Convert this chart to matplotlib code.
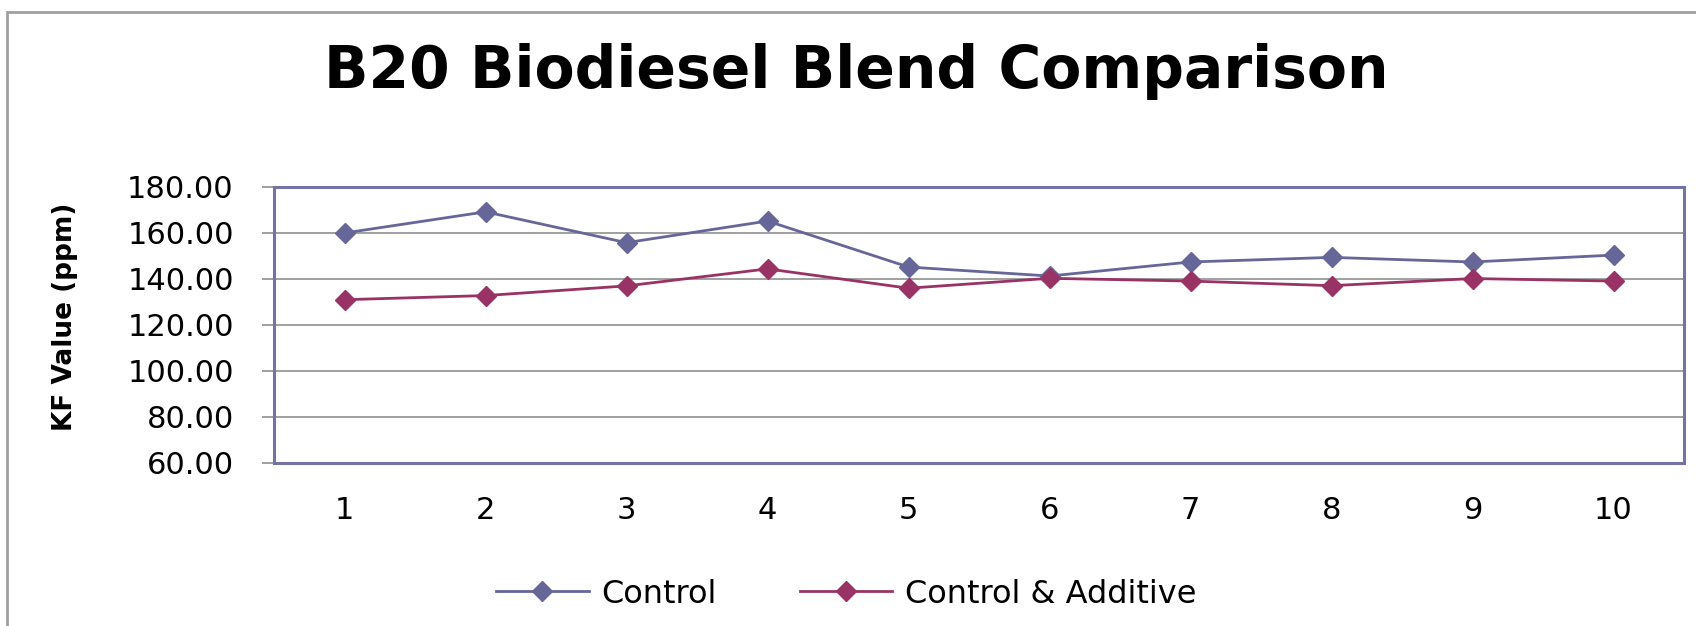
import matplotlib.pyplot as plt
from matplotlib.patches import Rectangle

samples = [1, 2, 3, 4, 5, 6, 7, 8, 9, 10]
control = [160.0, 169.2, 155.8, 165.2, 145.2, 141.3, 147.4, 149.4, 147.4, 150.4]
control_additive = [131.0, 132.8, 137.0, 144.4, 136.0, 140.3, 139.1, 137.1, 140.2, 139.1]
y_ticks = [60, 80, 100, 120, 140, 160, 180]

blue = '#666699'
plum = '#993366'

fig = plt.figure(figsize=(16.96, 6.26), dpi=100)
ax = fig.add_axes([274/1696, 1 - 463/626, (1684 - 274)/1696, (463 - 187)/626])

ax.plot(samples, control, color=blue, lw=2, marker='D', ms=10.5,
        label='Control', zorder=3)
ax.plot(samples, control_additive, color=plum, lw=2, marker='D', ms=10.5,
        label='Control & Additive', zorder=3)

ax.set_xlim(0.5, 10.5)
ax.set_ylim(60, 180)
ax.set_yticks(y_ticks)
ax.set_yticklabels([f'{v:.2f}' for v in y_ticks])
ax.set_xticks(samples)
ax.set_xticklabels([str(s) for s in samples])
ax.yaxis.grid(True, color='#999999', lw=1.3)
ax.set_axisbelow(True)

for sp in ax.spines.values():
    sp.set_color('#7474a4')
    sp.set_linewidth(2.2)

ax.tick_params(axis='y', length=9, width=1.3, color='#999999', labelsize=22, pad=20)
ax.tick_params(axis='x', length=0, labelsize=22, pad=24)

ax.set_ylabel('KF Value (ppm)', fontsize=19, fontweight='bold')
ax.yaxis.set_label_coords(-0.139, 0.53)

fig.text(0.505, 0.885, 'B20 Biodiesel Blend Comparison', ha='center', va='center',
         fontsize=42, fontweight='bold')

fig.legend(loc='center', bbox_to_anchor=(0.499, 0.051), ncol=2, frameon=False,
           fontsize=23, handlelength=2.9, columnspacing=2.6, handletextpad=0.4)

# outer chart-area border (runs off the right and bottom edges)
fig.patches.append(Rectangle((7/1696, -0.1), 1.2, 1 - 12/626 + 0.1,
                             transform=fig.transFigure, fill=False,
                             edgecolor='#a0a0a0', lw=2))

fig.savefig('out.png', dpi=100)
